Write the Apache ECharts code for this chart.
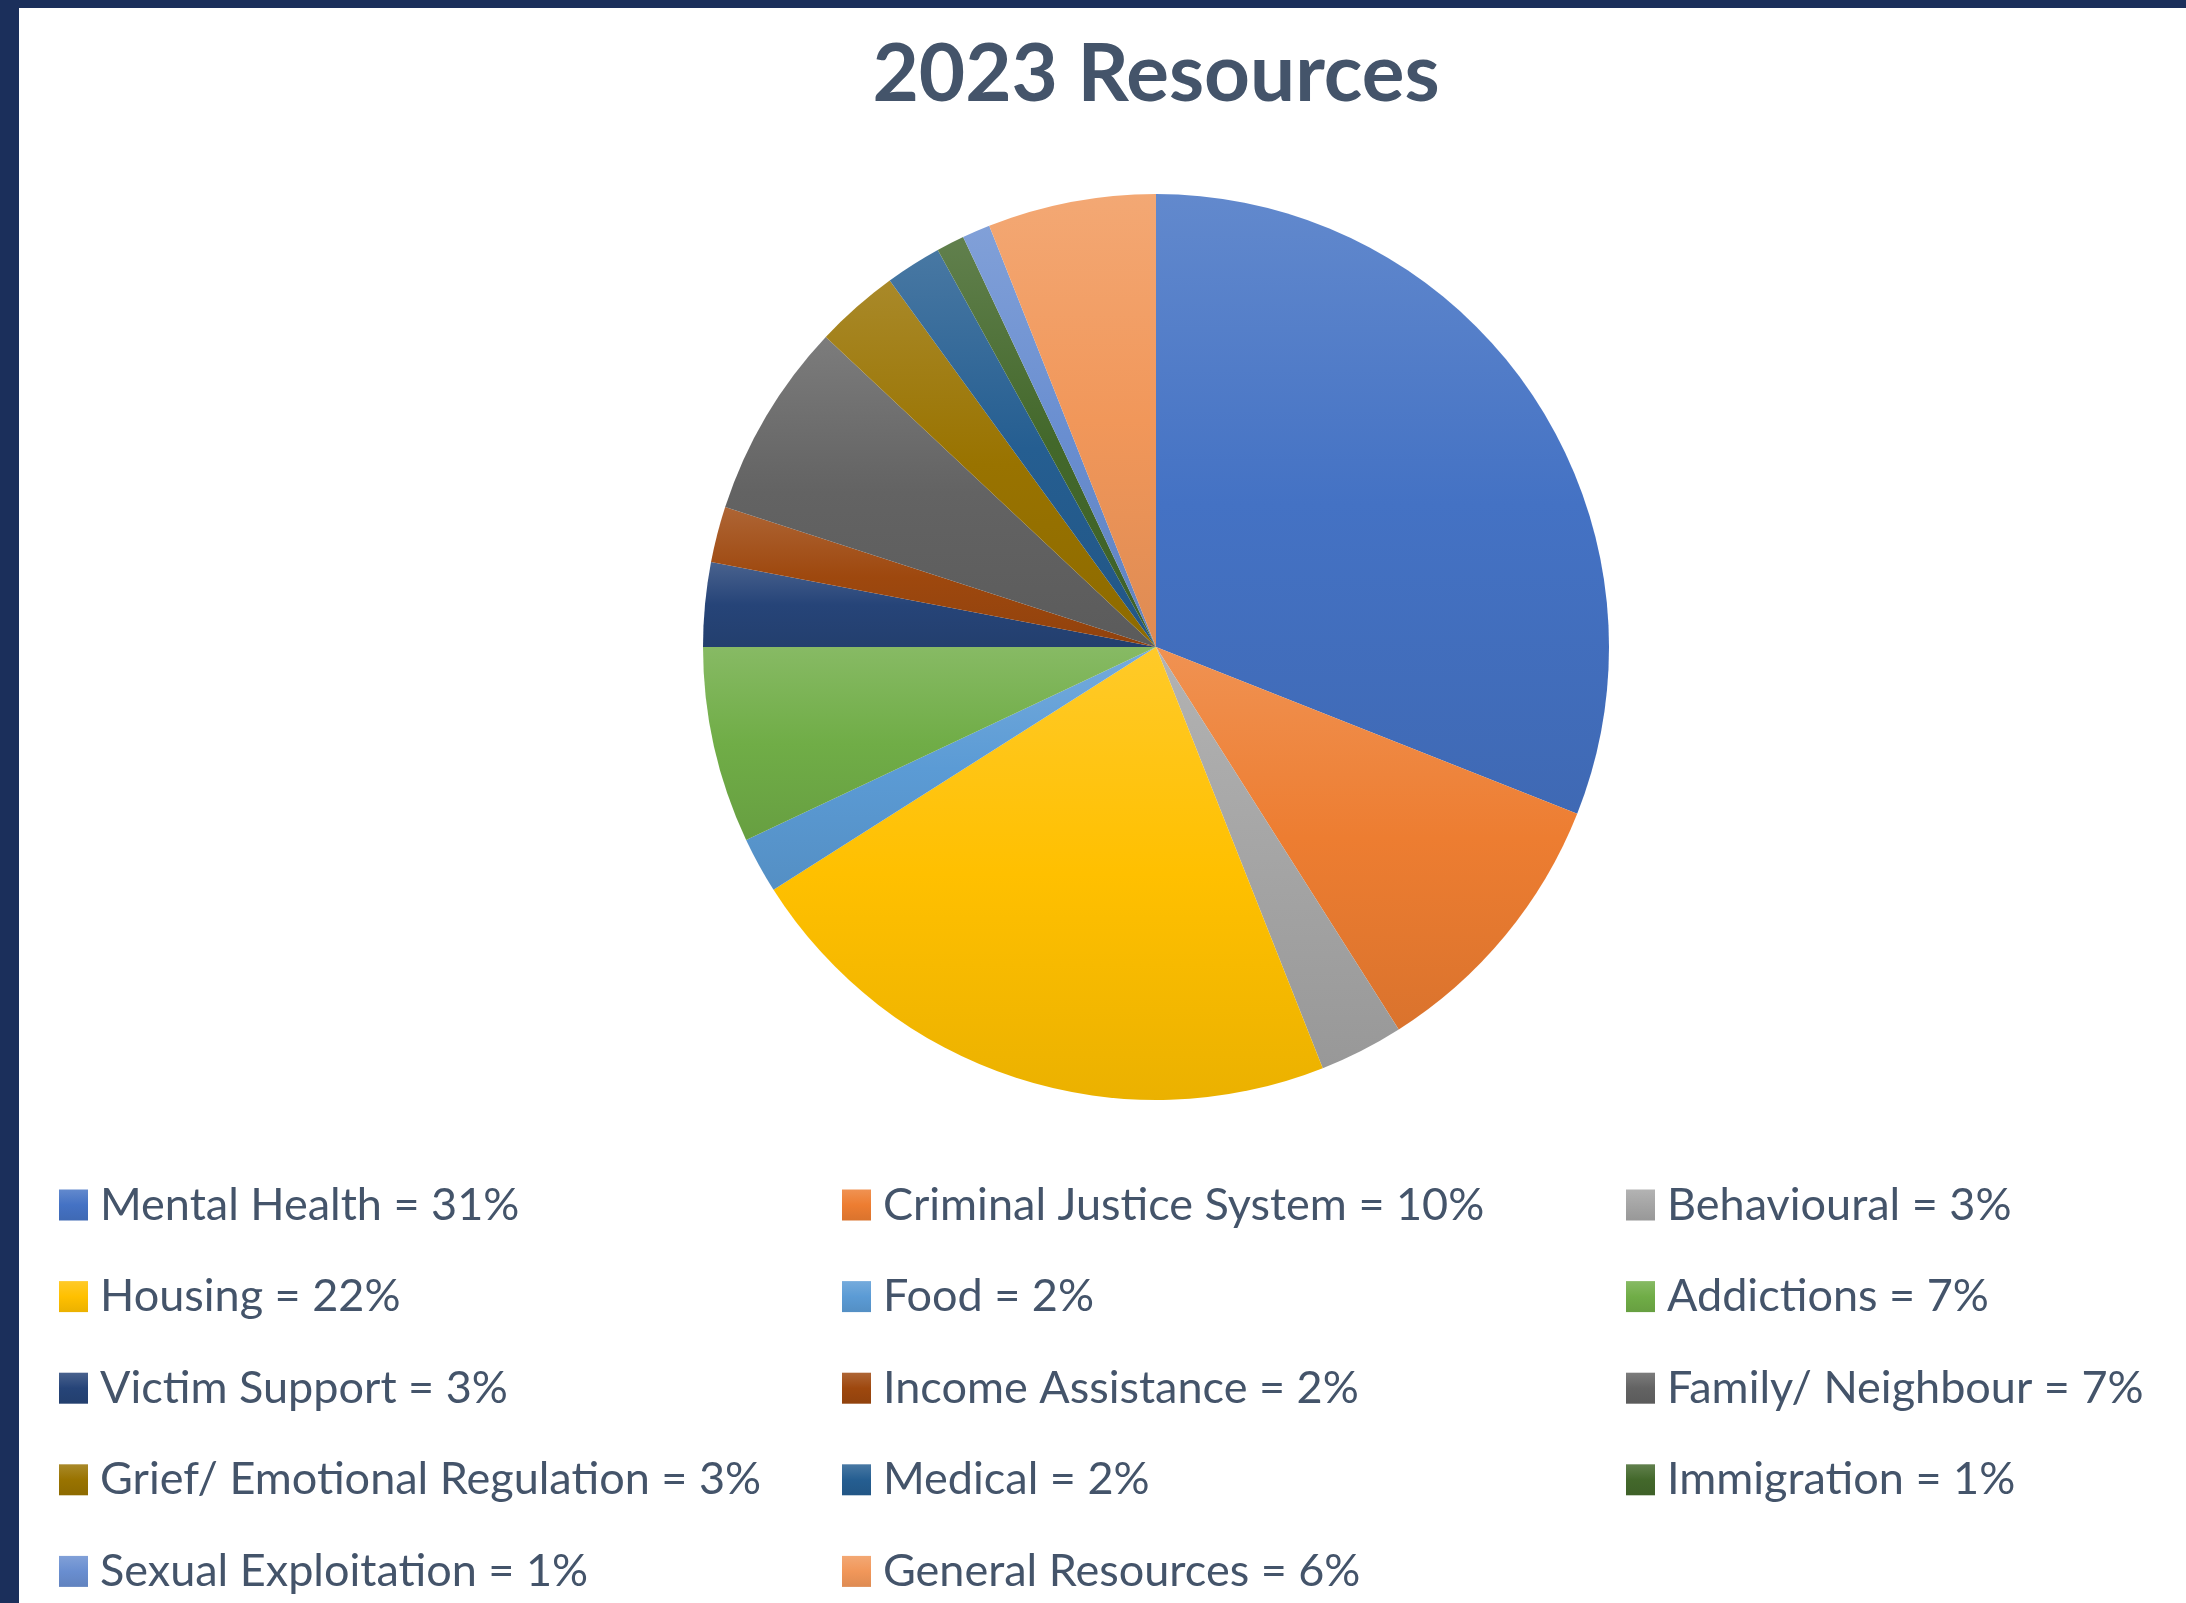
<!DOCTYPE html>
<html>
<head>
<meta charset="utf-8">
<script src="https://cdn.jsdelivr.net/npm/echarts@6/dist/echarts.min.js"></script>
<style>
  html, body { margin: 0; padding: 0; background: #ffffff; }
  #chart { width: 2186px; height: 1603px; }
</style>
</head>
<body>
<div id="chart"></div>
<script>
// Resource categories, in drawing order (clockwise from 12 o'clock)
const categories = [
  'Mental Health', 'Criminal Justice System', 'Behavioural',
  'Housing', 'Food', 'Addictions',
  'Victim Support', 'Income Assistance', 'Family/ Neighbour',
  'Grief/ Emotional Regulation', 'Medical', 'Immigration',
  'Sexual Exploitation', 'General Resources'
];

// Share of resources, percent
const shares = [31, 10, 3, 22, 2, 7, 3, 2, 7, 3, 2, 1, 1, 6];

// Base slice colours (Office palette)
const baseColors = [
  '#4472C4', '#ED7D31', '#A5A5A5',
  '#FFC000', '#5B9BD5', '#70AD47',
  '#264478', '#9E480E', '#636363',
  '#997300', '#255E91', '#43682B',
  '#698ED0', '#F1975A'
];

// Legend columns (indices into categories), filled row by row
const legendColumns = [
  [0, 3, 6, 9, 12],
  [1, 4, 7, 10, 13],
  [2, 5, 8, 11]
];

function hexToRgb(h) {
  const n = parseInt(h.slice(1), 16);
  return [(n >> 16) & 255, (n >> 8) & 255, n & 255];
}
function mix(h, target, t) {
  const c = hexToRgb(h);
  const r = c.map((v, i) => Math.round(v + (target[i] - v) * t));
  return 'rgb(' + r.join(',') + ')';
}
// Soft vertical gradient per slice: lighter at the top, a touch darker at the bottom
function sliceFill(h) {
  return new echarts.graphic.LinearGradient(0, 0, 0, 1, [
    { offset: 0, color: mix(h, [255, 255, 255], 0.16) },
    { offset: 0.5, color: h },
    { offset: 1, color: mix(h, [0, 0, 0], 0.08) }
  ]);
}

const textColor = '#44546A';
const fontFamily = 'Lato, "Noto Sans", sans-serif';

const chart = echarts.init(document.getElementById('chart'), null, { renderer: 'canvas' });

const pieData = categories.map((name, i) => ({
  name: name,
  value: shares[i],
  itemStyle: { color: sliceFill(baseColors[i]) }
}));

const colLeft = [59, 842, 1626];

const legends = legendColumns.map((col, k) => ({
  orient: 'vertical',
  left: colLeft[k],
  top: 1182,
  height: 440,
  padding: 0,
  itemWidth: 29,
  itemHeight: 31,
  itemGap: 45.6,
  icon: 'rect',
  selectedMode: false,
  data: col.map(i => categories[i]),
  formatter: function (name) {
    return name + ' = ' + shares[categories.indexOf(name)] + '%';
  },
  textStyle: {
    color: textColor,
    fontFamily: fontFamily,
    fontSize: 45,
    lineHeight: 46,
    padding: [0, 0, 0, 7]
  }
}));

chart.setOption({
  animation: false,
  backgroundColor: '#ffffff',
  title: {
    text: '2023 Resources',
    left: 1151,
    top: 30,
    textAlign: 'center',
    textStyle: {
      color: textColor,
      fontFamily: fontFamily,
      fontWeight: 'bold',
      fontSize: 80
    }
  },
  legend: legends,
  graphic: [
    { type: 'rect', shape: { x: 0, y: 0, width: 19, height: 1603 }, style: { fill: '#1B2F5B' }, silent: true },
    { type: 'rect', shape: { x: 0, y: 0, width: 2186, height: 8 }, style: { fill: '#1B2F5B' }, silent: true }
  ],
  series: [{
    type: 'pie',
    center: [1156, 647],
    radius: [0, 453],
    startAngle: 90,
    clockwise: true,
    label: { show: false },
    labelLine: { show: false },
    emphasis: { disabled: true },
    itemStyle: { borderWidth: 0 },
    data: pieData
  }]
});
</script>
</body>
</html>
